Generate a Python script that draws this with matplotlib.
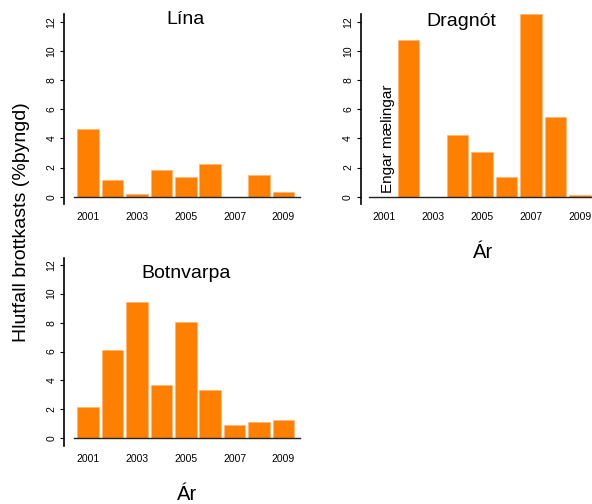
import matplotlib
matplotlib.use("Agg")
import matplotlib.pyplot as plt
import numpy as np

plt.rcParams['font.family'] = ['Liberation Sans', 'DejaVu Sans']

years = [2001, 2002, 2003, 2004, 2005, 2006, 2007, 2008, 2009]
lina = [4.62, 1.14, 0.16, 1.83, 1.35, 2.24, 0.0, 1.51, 0.34]
dragnot = [0.0, 10.74, 0.0, 4.23, 3.06, 1.35, 12.5, 5.49, 0.11]
botnvarpa = [2.14, 6.07, 9.45, 3.66, 8.07, 3.31, 0.90, 1.15, 1.24]
year_labels = ['2001', '2003', '2005', '2007', '2009']

W, H = 592, 504
ORANGE = '#ff8000'


def make_ax(fig, left, right, top, bottom):
    # pixel box -> figure fraction
    return fig.add_axes([left / W, (H - bottom) / H, (right - left) / W, (bottom - top) / H])


def panel(ax, vals, xlim):
    x = np.arange(len(years))
    ax.bar(x, vals, width=0.88, color=ORANGE, edgecolor='#ffb070', linewidth=0.4, zorder=2)
    ax.plot([-0.6, 8.66], [0, 0], color='#222222', lw=1.0, zorder=3, clip_on=False)
    ax.set_xlim(*xlim)
    ax.set_ylim(-0.5, 12.5)
    ax.set_yticks([0, 2, 4, 6, 8, 10, 12])
    ax.set_yticklabels(['0', '2', '4', '6', '8', '10', '12'], rotation=90, va='center', fontsize=7.5)
    ax.set_xticks([0, 2, 4, 6, 8])
    ax.set_xticklabels(year_labels, fontsize=7.5)
    ax.tick_params(axis='x', length=0, pad=6)
    ax.tick_params(axis='y', length=3, width=0.8, pad=2.5)
    for s in ['top', 'right', 'bottom']:
        ax.spines[s].set_visible(False)
    ax.spines['left'].set_linewidth(1.2)
    ax.set_facecolor('none')


def ftext(px, py, s, **kw):
    fig.text(px / W, 1 - py / H, s, ha='center', va='center', **kw)


fig = plt.figure(figsize=(W / 100, H / 100), dpi=100)

ax1 = make_ax(fig, 64, 300, 14.4, 204)
panel(ax1, lina, (-0.99, 8.68))

ax2 = make_ax(fig, 360.7, 592, 14.4, 204)
panel(ax2, dragnot, (-0.95, 8.5))
ax2.text(0.16, 0.25, 'Engar mælingar', rotation=90, ha='center', va='bottom', fontsize=11)

ax3 = make_ax(fig, 64, 300, 257.5, 445.5)
panel(ax3, botnvarpa, (-0.99, 8.68))

ftext(185.7, 19, 'Lína', fontsize=14)
ftext(461.7, 21, 'Dragnót', fontsize=14)
ftext(185.7, 274, 'Botnvarpa', fontsize=14)
ftext(483, 253, 'Ár', fontsize=14.5)
ftext(186.7, 495, 'Ár', fontsize=14.5)
ftext(22, 222, 'Hlutfall brottkasts (%þyngd)', rotation=90, fontsize=14)

fig.savefig('out.png', dpi=100)
